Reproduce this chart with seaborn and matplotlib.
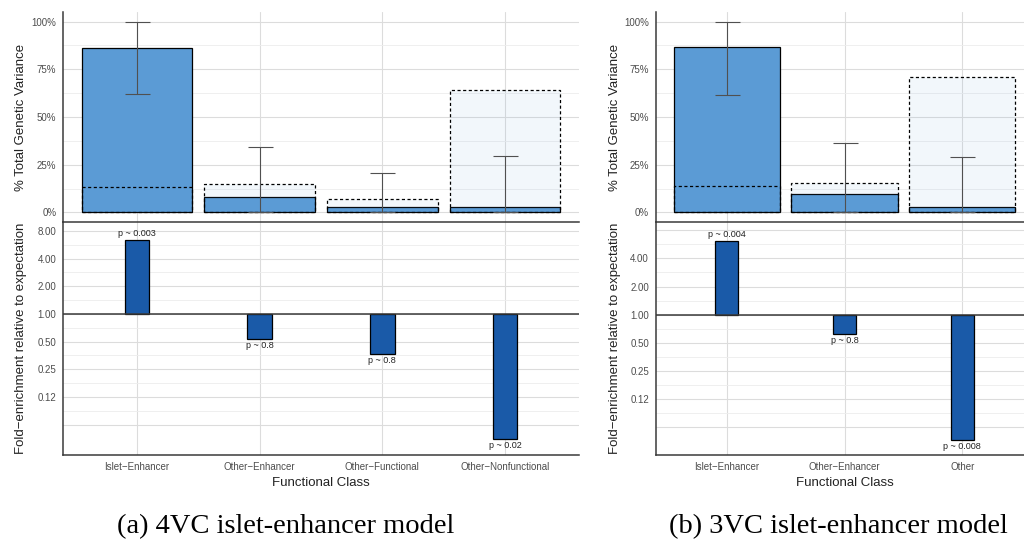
import numpy as np
import pandas as pd
import matplotlib
matplotlib.use("Agg")
import matplotlib.pyplot as plt
import seaborn as sns
from matplotlib.ticker import FixedLocator, FixedFormatter, NullFormatter

# ---------------- data ----------------
cats_a = ["Islet−Enhancer", "Other−Enhancer", "Other−Functional", "Other−Nonfunctional"]
obs_a = [0.864, 0.079, 0.026, 0.027]
exp_a = [0.134, 0.150, 0.072, 0.640]
err_lo_a = [0.618, 0.0, 0.0, 0.0]
err_hi_a = [1.0, 0.342, 0.207, 0.295]
fold_a = [6.4, 0.54, 0.365, 0.044]
pval_a = ["p ~ 0.003", "p ~ 0.8", "p ~ 0.8", "p ~ 0.02"]

cats_b = ["Islet−Enhancer", "Other−Enhancer", "Other"]
obs_b = [0.869, 0.097, 0.031]
exp_b = [0.138, 0.153, 0.707]
err_lo_b = [0.613, 0.0, 0.0]
err_hi_b = [1.0, 0.366, 0.288]
fold_b = [6.2, 0.62, 0.046]
pval_b = ["p ~ 0.004", "p ~ 0.8", "p ~ 0.008"]

pct_ticks = [0.0, 0.25, 0.5, 0.75, 1.0]
pct_labels = ["0%", "25%", "50%", "75%", "100%"]
fold_labels_a = [8, 4, 2, 1, 0.5, 0.25, 0.125]
fold_labels_b = [4, 2, 1, 0.5, 0.25, 0.125]

caption_a = "(a) 4VC islet-enhancer model"
caption_b = "(b) 3VC islet-enhancer model"

# ---------------- style ----------------
sns.set_style("white")
plt.rcParams["font.family"] = ["Liberation Sans", "DejaVu Sans"]

SOLID = "#5b9bd5"
DARK = "#1a5aa8"
AXC = "#3a3a3a"
TICKC = "#4d4d4d"
GRID_MAJ = "#dcdcdc"
GRID_MIN = "#ededed"

W, H = 1024, 546
fig = plt.figure(figsize=(W / 100, H / 100), dpi=100)


def rect(x0, y0, x1, y1):
    return [x0 / W, (H - y1) / H, (x1 - x0) / W, (y1 - y0) / H]


def style_axes(ax):
    ax.patch.set_alpha(0)
    for s in ["top", "right"]:
        ax.spines[s].set_visible(False)
    for s in ["left", "bottom"]:
        ax.spines[s].set_color(AXC)
        ax.spines[s].set_linewidth(1.1)
    ax.tick_params(axis="both", which="major", length=3, color=AXC,
                   labelcolor=TICKC, labelsize=7, width=0.8, pad=2)
    ax.tick_params(axis="both", which="minor", length=0)
    ax.set_axisbelow(True)


def draw_panel(x0, x1, cats, obs, exp, lo, hi, fold, pvals, fold_labels,
               fold_lim, ylab_x):
    n = len(cats)
    ax_b = fig.add_axes(rect(x0, 222, x1, 455))
    ax_t = fig.add_axes(rect(x0, 12, x1, 222), sharex=ax_b)

    df = pd.DataFrame({"cat": cats, "obs": obs, "exp": exp})
    sns.barplot(data=df, x="cat", y="obs", order=cats, ax=ax_t, color=SOLID,
                saturation=1, width=0.9, edgecolor="black", linewidth=0.9,
                zorder=2)
    npatch = len(ax_t.patches)
    sns.barplot(data=df, x="cat", y="exp", order=cats, ax=ax_t, color=SOLID,
                saturation=1, width=0.9, edgecolor="black", linewidth=0.9,
                linestyle=(0, (2.5, 2.0)), zorder=3)
    for p in ax_t.patches[npatch:]:
        p.set_facecolor((0.357, 0.608, 0.835, 0.075))
        p.set_edgecolor("black")
    pos = np.arange(n)
    obs_arr = np.array(obs)
    yerr = [obs_arr - np.array(lo), np.array(hi) - obs_arr]
    ax_t.errorbar(pos, obs_arr, yerr=yerr, fmt="none", ecolor="#505050",
                  elinewidth=0.8, capsize=9, capthick=0.8, zorder=4)

    style_axes(ax_t)
    ax_t.set_ylim(-0.05, 1.05)
    ax_t.yaxis.set_major_locator(FixedLocator(pct_ticks))
    ax_t.yaxis.set_major_formatter(FixedFormatter(pct_labels))
    ax_t.yaxis.set_minor_locator(FixedLocator([0.125, 0.375, 0.625, 0.875]))
    ax_t.grid(True, which="major", color=GRID_MAJ, lw=0.8)
    ax_t.grid(True, which="minor", axis="y", color=GRID_MIN, lw=0.6)
    ax_t.tick_params(axis="x", labelbottom=False, length=0)
    ax_t.set_xlabel("")
    ax_t.set_ylabel("% Total Genetic Variance", fontsize=9.5, color="#222222")
    ax_t.yaxis.set_label_coords(ylab_x, 0.5)

    # bottom: fold enrichment on log2 scale
    ax_b.set_yscale("log", base=2)
    ax_b.bar(pos, np.array(fold) - 1.0, bottom=1.0, width=0.2, color=DARK,
             edgecolor="black", linewidth=0.9, zorder=2)
    ax_b.axhline(1.0, color=AXC, lw=1.1, zorder=3)
    for i, (f, t) in enumerate(zip(fold, pvals)):
        if f >= 1:
            ax_b.annotate(t, (i, f), xytext=(0, 1.5), textcoords="offset points",
                          ha="center", va="bottom", fontsize=6.5, color="#222222")
        else:
            ax_b.annotate(t, (i, f), xytext=(0, -1.5), textcoords="offset points",
                          ha="center", va="top", fontsize=6.5, color="#222222")

    style_axes(ax_b)
    ax_b.set_ylim(*fold_lim)
    ax_b.yaxis.set_major_locator(FixedLocator(fold_labels))
    ax_b.yaxis.set_major_formatter(FixedFormatter(["%.2f" % v for v in fold_labels]))
    ax_b.yaxis.set_minor_locator(FixedLocator([2.0 ** (k + 0.5) for k in range(-4, 3)]))
    ax_b.yaxis.set_minor_formatter(NullFormatter())
    ax_b.grid(True, which="major", color=GRID_MAJ, lw=0.8)
    ax_b.grid(True, which="minor", axis="y", color=GRID_MIN, lw=0.6)
    for v in [2.0 ** k for k in range(-4, 4)]:
        if v not in fold_labels:
            ax_b.axhline(v, color=GRID_MAJ, lw=0.8, zorder=0)
    ax_b.set_xticks(pos)
    ax_b.set_xticklabels(cats)
    ax_b.set_xlim(-0.6, n - 1 + 0.6)
    ax_b.set_xlabel("Functional Class", fontsize=9.5, color="#222222", labelpad=4)
    ax_b.set_ylabel("Fold−enrichment relative to expectation", fontsize=9.5,
                    color="#222222")
    ax_b.yaxis.set_label_coords(ylab_x, 0.5)
    return ax_t, ax_b


draw_panel(63.4, 578.6, cats_a, obs_a, exp_a, err_lo_a, err_hi_a, fold_a,
           pval_a, fold_labels_a, (0.0292, 10.02), -0.070)
draw_panel(656.0, 1033.0, cats_b, obs_b, exp_b, err_lo_b, err_hi_b, fold_b,
           pval_b, fold_labels_b, (0.0317, 9.8), -0.093)

fig.text(286 / W, 1 - 527 / H, caption_a, ha="center", va="center",
         fontsize=20.5, family=["Liberation Serif", "DejaVu Serif"], color="black")
fig.text(838 / W, 1 - 527 / H, caption_b, ha="center", va="center",
         fontsize=20.5, family=["Liberation Serif", "DejaVu Serif"], color="black")

fig.savefig("out.png", dpi=100)
